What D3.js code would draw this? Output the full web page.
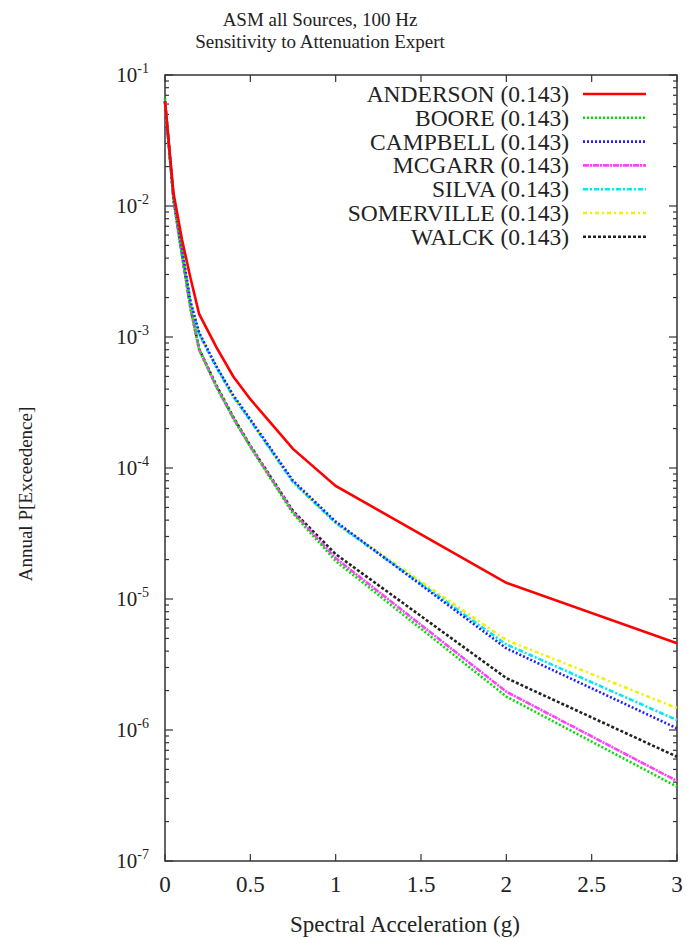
<!DOCTYPE html>
<html><head><meta charset="utf-8">
<script src="https://cdn.jsdelivr.net/npm/d3@7"></script>
<style>body{margin:0;background:#fff}svg{display:block}text{font-family:"Liberation Serif","DejaVu Serif",serif;fill:#222}</style>
</head><body>
<svg id="c" width="687" height="938"></svg>
<script>
const titleLines = ["ASM all Sources, 100 Hz", "Sensitivity to Attenuation Expert"];
const xLabel = "Spectral Acceleration (g)";
const yLabel = "Annual P[Exceedence]";
const xValues = [0, 0.05, 0.1, 0.15, 0.2, 0.3, 0.4, 0.5, 0.75, 1, 2, 3];
const xTicks = [0, 0.5, 1, 1.5, 2, 2.5, 3];
const xTickLabels = ["0", "0.5", "1", "1.5", "2", "2.5", "3"];
const yTickExps = [-1, -2, -3, -4, -5, -6, -7];
const seriesNames = ["ANDERSON (0.143)", "BOORE (0.143)", "CAMPBELL (0.143)", "MCGARR (0.143)", "SILVA (0.143)", "SOMERVILLE (0.143)", "WALCK (0.143)"];
const anderson   = [0.063, 0.0125, 5.5e-3, 2.8e-3, 1.5e-3, 8.4e-4, 5.0e-4, 3.35e-4, 1.4e-4, 7.3e-5, 1.33e-5, 4.6e-6];
const boore      = [0.066, 0.0112, 4.2e-3, 1.65e-3, 8.0e-4, 4.2e-4, 2.4e-4, 1.45e-4, 4.5e-5, 1.95e-5, 1.8e-6, 3.69e-7];
const campbell   = [0.063, 0.0115, 4.6e-3, 1.85e-3, 1.08e-3, 6.0e-4, 3.6e-4, 2.35e-4, 8.0e-5, 3.9e-5, 4.2e-6, 1.03e-6];
const mcgarr     = [0.063, 0.0112, 4.2e-3, 1.65e-3, 8.0e-4, 4.2e-4, 2.4e-4, 1.46e-4, 4.6e-5, 2.05e-5, 1.96e-6, 4.08e-7];
const silva      = [0.063, 0.0115, 4.6e-3, 1.8e-3, 1.05e-3, 5.9e-4, 3.5e-4, 2.3e-4, 7.8e-5, 3.8e-5, 4.5e-6, 1.19e-6];
const somerville = [0.063, 0.0115, 4.6e-3, 1.8e-3, 1.05e-3, 5.9e-4, 3.5e-4, 2.3e-4, 7.8e-5, 3.8e-5, 4.86e-6, 1.47e-6];
const walck      = [0.063, 0.0112, 4.2e-3, 1.65e-3, 8.1e-4, 4.3e-4, 2.45e-4, 1.48e-4, 4.7e-5, 2.2e-5, 2.49e-6, 6.25e-7];
const seriesValues = [anderson, boore, campbell, mcgarr, silva, somerville, walck];
const colors = ["#ff0000", "#00e000", "#2020ff", "#ff40ff", "#00e8f0", "#f0f000", "#222222"];
const dashes = [null, "2,2", "2,2", "6,1,2,1", "5,2,2,2", "4,3,2,3", "3,2"];

const svg = d3.select("#c");
const L = 165, R = 677, T = 75, B = 861;
const x = d3.scaleLinear().domain([0, 3]).range([L, R]);
const y = d3.scaleLog().domain([1e-7, 1e-1]).range([B, T]);

// title
titleLines.forEach((t, i) => svg.append("text").attr("x", 320).attr("y", 26 + i * 22)
  .attr("text-anchor", "middle").style("font-size", "19px").text(t));

// frame
svg.append("rect").attr("x", L).attr("y", T).attr("width", R - L).attr("height", B - T)
  .attr("fill", "none").attr("stroke", "#333").attr("stroke-width", 1.5);

// y ticks (major + minor), both sides
const minor = [];
for (let e = -7; e < -1; e++) for (let m = 2; m <= 9; m++) minor.push(m * Math.pow(10, e));
const tg = svg.append("g").attr("stroke", "#333").attr("stroke-width", 1.2);
yTickExps.forEach(e => {
  const yy = y(Math.pow(10, e));
  tg.append("line").attr("x1", L).attr("x2", L + 8).attr("y1", yy).attr("y2", yy);
  tg.append("line").attr("x1", R).attr("x2", R - 8).attr("y1", yy).attr("y2", yy);
});
minor.forEach(v => {
  const yy = y(v);
  tg.append("line").attr("x1", L).attr("x2", L + 4).attr("y1", yy).attr("y2", yy);
  tg.append("line").attr("x1", R).attr("x2", R - 4).attr("y1", yy).attr("y2", yy);
});
xTicks.forEach(v => {
  const xx = x(v);
  tg.append("line").attr("x1", xx).attr("x2", xx).attr("y1", B).attr("y2", B - 7);
  tg.append("line").attr("x1", xx).attr("x2", xx).attr("y1", T).attr("y2", T + 7);
});

// y tick labels
yTickExps.forEach(e => {
  const t = svg.append("text").attr("x", 149).attr("y", y(Math.pow(10, e)) + 7)
    .attr("text-anchor", "end").style("font-size", "21px");
  t.append("tspan").text("10");
  t.append("tspan").attr("dy", -9).style("font-size", "14px").text(String(e));
});
// x tick labels
xTicks.forEach((v, i) => svg.append("text").attr("x", x(v)).attr("y", 892)
  .attr("text-anchor", "middle").style("font-size", "23px").text(xTickLabels[i]));

// axis labels
svg.append("text").attr("x", 405).attr("y", 932).attr("text-anchor", "middle")
  .style("font-size", "23px").text(xLabel);
svg.append("text").attr("transform", "translate(32,494) rotate(-90)").attr("text-anchor", "middle")
  .style("font-size", "19px").text(yLabel);

// lines
const line = d3.line().x((d, i) => x(xValues[i])).y(d => y(d));
const order = [6, 5, 4, 3, 2, 1, 0];
order.forEach(k => {
  svg.append("path").datum(seriesValues[k]).attr("d", line).attr("fill", "none")
    .attr("stroke", colors[k]).attr("stroke-width", 2.6)
    .attr("stroke-dasharray", dashes[k]);
});

// legend
seriesNames.forEach((n, i) => {
  const yy = 94 + i * 23.8;
  svg.append("text").attr("x", 569).attr("y", yy + 8).attr("text-anchor", "end")
    .style("font-size", "23.5px").text(n);
  svg.append("line").attr("x1", 583).attr("x2", 646).attr("y1", yy).attr("y2", yy)
    .attr("stroke", colors[i]).attr("stroke-width", 2.6).attr("stroke-dasharray", dashes[i]);
});
</script>
</body></html>
